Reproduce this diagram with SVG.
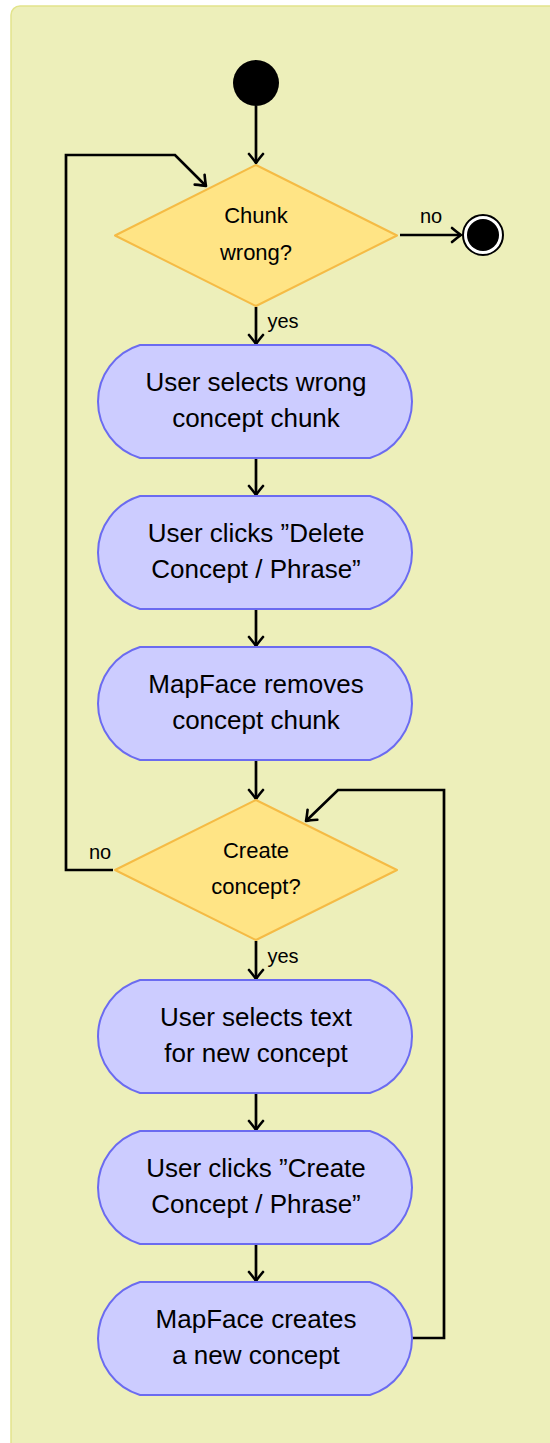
<svg xmlns="http://www.w3.org/2000/svg" width="550" height="1443" viewBox="0 0 550 1443">
  <style>
    .bg { fill: #EDEFBA; stroke: #E2E48C; stroke-width: 1.5; }
    .act { fill: #CCCCFF; stroke: #6B6BF0; stroke-width: 2; }
    .dec { fill: #FFE485; stroke: #F5BB45; stroke-width: 2; stroke-linejoin: round; }
    .edge { fill: none; stroke: #000; stroke-width: 2.7; marker-end: url(#arrow); }
    text { font-family: "Liberation Sans", Arial, sans-serif; fill: #000; text-anchor: middle; }
    .t-act { font-size: 26px; }
    .t-dec { font-size: 22px; }
    .t-lbl { font-size: 20px; }
  </style>
  <defs>
    <marker id="arrow" markerUnits="userSpaceOnUse" markerWidth="16" markerHeight="18" viewBox="-11 -9 13 18" refX="0" refY="0" orient="auto">
      <path d="M-9,-7 Q-3,-2 0,0 Q-3,2 -9,7" fill="none" stroke="#000" stroke-width="2.6" stroke-linecap="round" stroke-linejoin="round"/>
    </marker>
    <!-- activity shape: straight sides joined by circular end caps -->
    <path id="pill" d="M140,0 H370 A59,59 0 0 1 370,113 H140 A59,59 0 0 1 140,0 Z"/>
  </defs>

  <!-- panel -->
  <rect class="bg" x="11" y="6" width="560" height="1460" rx="9" ry="9"/>

  <!-- connectors -->
  <g id="connectors">
    <path class="edge" d="M256,106 V163"/>
    <path class="edge" d="M400,235 H461"/>
    <path class="edge" d="M256,307 V344"/>
    <path class="edge" d="M256,458 V495"/>
    <path class="edge" d="M256,609 V646"/>
    <path class="edge" d="M256,760 V799"/>
    <path class="edge" d="M256,941 V979"/>
    <path class="edge" d="M256,1093 V1130"/>
    <path class="edge" d="M256,1244 V1281"/>
    <path class="edge" d="M412,1338 H444 V790 H338 L306,821"/>
    <path class="edge" d="M113,870 H66 V155 H175 L206,186"/>
    <text class="t-lbl" x="431" y="223">no</text>
    <text class="t-lbl" x="283" y="328">yes</text>
    <text class="t-lbl" x="100" y="859">no</text>
    <text class="t-lbl" x="283" y="963">yes</text>
  </g>

  <g id="start">
    <circle cx="256" cy="83" r="23" fill="#000"/>
  </g>

  <g id="end">
    <circle cx="483" cy="235" r="20" fill="#fff" stroke="#000" stroke-width="2"/>
    <circle cx="483" cy="235" r="16" fill="#000"/>
  </g>

  <g id="chunk-wrong">
    <polygon class="dec" points="256,165 397,235.5 256,306 115,235.5"/>
    <text class="t-dec" x="256" y="223">Chunk</text>
    <text class="t-dec" x="256" y="260">wrong?</text>
  </g>

  <g id="select-wrong">
    <use href="#pill" class="act" y="345"/>
    <text class="t-act" x="256" y="391">User selects wrong</text>
    <text class="t-act" x="256" y="427">concept chunk</text>
  </g>

  <g id="click-delete">
    <use href="#pill" class="act" y="496"/>
    <text class="t-act" x="256" y="542">User clicks ”Delete</text>
    <text class="t-act" x="256" y="578">Concept / Phrase”</text>
  </g>

  <g id="remove-chunk">
    <use href="#pill" class="act" y="647"/>
    <text class="t-act" x="256" y="693">MapFace removes</text>
    <text class="t-act" x="256" y="729">concept chunk</text>
  </g>

  <g id="create-concept">
    <polygon class="dec" points="256,800 397,870 256,940 115,870"/>
    <text class="t-dec" x="256" y="858">Create</text>
    <text class="t-dec" x="256" y="894">concept?</text>
  </g>

  <g id="select-text">
    <use href="#pill" class="act" y="980"/>
    <text class="t-act" x="256" y="1026">User selects text</text>
    <text class="t-act" x="256" y="1062">for new concept</text>
  </g>

  <g id="click-create">
    <use href="#pill" class="act" y="1131"/>
    <text class="t-act" x="256" y="1177">User clicks ”Create</text>
    <text class="t-act" x="256" y="1213">Concept / Phrase”</text>
  </g>

  <g id="create-new">
    <use href="#pill" class="act" y="1282"/>
    <text class="t-act" x="256" y="1328">MapFace creates</text>
    <text class="t-act" x="256" y="1364">a new concept</text>
  </g>
</svg>
